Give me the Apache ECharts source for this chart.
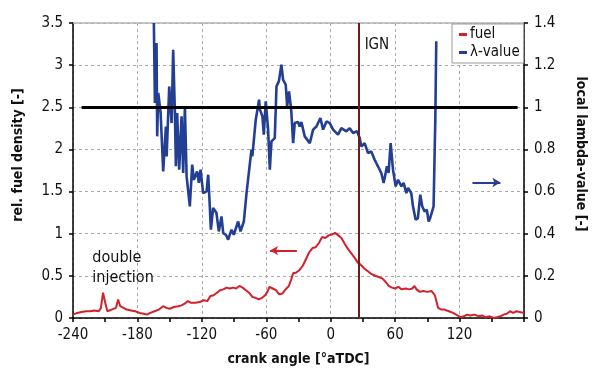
<!DOCTYPE html>
<html><head><meta charset="utf-8">
<script src="https://cdn.jsdelivr.net/npm/echarts@6/dist/echarts.min.js"></script>
<style>html,body{margin:0;padding:0;background:#fff}#c{width:600px;height:383px}</style>
</head><body><div id="c"></div>
<script>
const FONT = "'Liberation Sans Narrow','Arial Narrow','DejaVu Sans Condensed',sans-serif";
const xTickLabels = [-240,-180,-120,-60,0,60,120];
const fuelAngle = [-240,-236,-232,-228,-224,-220,-216,-214,-212,-210,-208,-204,-200,-198,-196,-193,-190,-186,-182,-178,-174,-171,-168,-164,-160,-156,-153,-150,-146,-142,-139,-136,-133,-130,-126,-122,-118,-115,-112,-109,-106,-103,-100,-97,-94,-91,-88,-85,-82,-79,-76,-73,-70,-67,-64,-61,-59,-57,-54,-51,-48,-45,-42,-39,-37,-35,-32,-29,-26,-23,-20,-17,-14,-11,-8,-5,-2,1,4,7,10,13,16,19,22,25,28,31,34,37,40,44,48,51,54,57,60,63,66,70,73,76,78,80,83,86,90,94,97,100,103,106,110,114,118,121,124,127,130,134,138,141,144,148,152,155,158,161,164,167,170,173,176,180];
const fuelValue = [0.04,0.06,0.07,0.08,0.08,0.09,0.08,0.12,0.30,0.18,0.08,0.10,0.12,0.22,0.14,0.12,0.10,0.09,0.08,0.06,0.05,0.04,0.06,0.08,0.10,0.14,0.12,0.11,0.13,0.14,0.15,0.17,0.20,0.18,0.18,0.19,0.21,0.20,0.26,0.27,0.30,0.33,0.34,0.36,0.35,0.36,0.35,0.38,0.36,0.33,0.30,0.25,0.24,0.22,0.24,0.27,0.31,0.37,0.35,0.33,0.28,0.29,0.34,0.38,0.45,0.53,0.54,0.57,0.62,0.70,0.78,0.83,0.84,0.89,0.96,0.95,0.98,0.99,1.01,0.98,0.95,0.88,0.82,0.77,0.72,0.66,0.63,0.59,0.56,0.53,0.51,0.49,0.47,0.43,0.38,0.36,0.35,0.37,0.34,0.35,0.34,0.35,0.38,0.34,0.31,0.32,0.31,0.32,0.27,0.12,0.10,0.10,0.08,0.06,0.03,0.01,0.02,0.04,0.03,0.04,0.02,0.03,0.01,0.02,0.00,0.01,0.02,0.04,0.05,0.08,0.06,0.08,0.07,0.06];
const lambdaAngle = [-164.7,-163.7,-162.2,-161.6,-160.6,-158.4,-156,-153.5,-152.8,-150.4,-148.2,-146.7,-145.1,-144.2,-143,-141.1,-138.9,-137.4,-135.8,-134.2,-131.2,-129,-127.4,-124.4,-122.8,-121.2,-118.8,-115.6,-114.1,-112.6,-111.6,-109.5,-106.4,-104.2,-101.7,-100.1,-97.6,-95.5,-92.4,-90.3,-86.2,-84,-80.9,-78.4,-73.8,-73,-69.8,-66.7,-66,-63.6,-62.3,-60.5,-58.3,-56.7,-55.2,-52.1,-50.5,-48.3,-45.9,-44.4,-41.9,-40.6,-38.8,-36.7,-35,-33.5,-30.4,-28.8,-27.3,-24.2,-19.5,-16.4,-13.3,-9.6,-7.1,-4,-0.9,2.2,6.8,9.9,14.6,17.7,20.8,24.5,27,28.5,31.6,34.7,37.8,40.9,44,47.1,49.3,52.4,53.9,55.8,58,60.5,62.7,65.8,67.9,70.4,72,75,76.6,79.1,81.2,83.4,85.2,87.4,89.5,91.2,92.6,94.4,95.8,97.4,98.3];
const lambdaValue = [1.40,1.02,1.305,0.862,1.068,0.973,0.696,0.909,0.767,1.099,0.925,1.273,0.973,0.72,0.973,0.704,0.957,0.688,1.004,0.672,0.53,0.728,0.656,0.696,0.641,0.704,0.593,0.601,0.68,0.53,0.419,0.522,0.498,0.411,0.482,0.403,0.395,0.372,0.419,0.395,0.458,0.411,0.458,0.593,0.799,0.767,0.941,1.036,0.99,0.957,0.87,1.028,0.894,0.704,0.838,0.854,1.099,1.123,1.202,1.131,1.107,1.004,1.075,0.981,0.83,0.925,0.93,0.909,0.93,0.862,0.83,0.894,0.909,0.949,0.894,0.933,0.925,0.894,0.87,0.901,0.886,0.901,0.878,0.886,0.854,0.814,0.83,0.783,0.79,0.751,0.72,0.688,0.641,0.72,0.688,0.83,0.704,0.625,0.656,0.625,0.641,0.593,0.617,0.593,0.53,0.466,0.474,0.585,0.53,0.506,0.514,0.458,0.474,0.474,0.53,0.941,1.313];
const lambdaOneLine = {fuel: 2.5, from: -232, to: 174};
const ignAngle = 26;
const fuelArrow = {y: 0.8, from: -31.5, to: -56.5};
const lambdaArrow = {y: 0.643, from: 132, to: 158};
const noteText = {x: -222, y1: 0.715, y2: 0.48};
const leftTitle = 'rel. fuel density [-]';
const rightTitle = 'local lambda-value [-]';

const RED = '#d3202b', BLUE = '#223f94', IGNC = '#6e1b1b';
const TICK = 15, TITLE = 14;
const chart = echarts.init(document.getElementById('c'));
const grid = {left: 73, right: 76, top: 23, bottom: 65};
chart.setOption({
  animation: false,
  textStyle: {fontFamily: FONT},
  grid: grid,
  legend: {
    data: ['fuel', 'λ-value'], orient: 'vertical', left: 452, top: 24,
    icon: 'rect', itemWidth: 8, itemHeight: 3, itemGap: 3, padding: [3, 4, 3, 7],
    backgroundColor: '#fff', borderColor: '#999', borderWidth: 1, borderRadius: 0,
    textStyle: {fontFamily: FONT, fontSize: 15, color: '#111', padding: [0, 0, 0, -2]}
  },
  xAxis: [{
    type: 'value', min: -240, max: 180, interval: 60,
    name: 'crank angle [°aTDC]', nameLocation: 'middle', nameGap: 34,
    nameTextStyle: {fontFamily: FONT, fontSize: TITLE, fontWeight: 'bold', color: '#111'},
    axisLine: {onZero: false, lineStyle: {color: '#000', width: 1.5}},
    axisTick: {show: true, length: 4, inside: false, lineStyle: {color: '#000', width: 1.5}},
    minorTick: {show: true, splitNumber: 2, length: 4, lineStyle: {color: '#000', width: 1.5}},
    axisLabel: {fontFamily: FONT, fontSize: TICK, color: '#111', margin: 10,
      formatter: v => xTickLabels.indexOf(v) >= 0 ? String(v) : ''},
    splitLine: {show: true, lineStyle: {color: '#aaa', type: [3, 3], width: 1}}
  }, {
    type: 'value', position: 'top', min: -240, max: 180,
    axisLine: {show: true, onZero: false, lineStyle: {color: '#b5b5b5', width: 1.5}},
    axisTick: {show: false}, axisLabel: {show: false}, splitLine: {show: false}
  }],
  yAxis: [{
    type: 'value', min: 0, max: 3.5, interval: 0.5, position: 'left',
    axisLine: {show: true, onZero: false, lineStyle: {color: '#000', width: 1.5}},
    axisTick: {show: true, length: 4, lineStyle: {color: '#000', width: 1.5}},
    axisLabel: {fontFamily: FONT, fontSize: TICK, color: '#111', margin: 10},
    splitLine: {show: true, lineStyle: {color: '#aaa', type: [3, 3], width: 1}}
  }, {
    type: 'value', min: 0, max: 1.4, interval: 0.2, position: 'right',
    axisLine: {show: true, onZero: false, lineStyle: {color: '#000', width: 1.5}},
    axisTick: {show: true, length: 4, lineStyle: {color: '#000', width: 1.5}},
    axisLabel: {fontFamily: FONT, fontSize: TICK, color: '#111', margin: 10,
      formatter: v => (v === 0 || v === 1) ? String(v) : v.toFixed(1)},
    splitLine: {show: false}
  }],
  series: [{
    name: 'fuel', type: 'line', xAxisIndex: 0, yAxisIndex: 0, showSymbol: false, symbol: 'none',
    data: fuelAngle.map((a, i) => [a, fuelValue[i]]),
    lineStyle: {color: RED, width: 2}, itemStyle: {color: RED}, z: 3,
    markLine: {
      silent: true, animation: false, symbol: ['none', 'none'], label: {show: false},
      data: [
        [{coord: [lambdaOneLine.from, lambdaOneLine.fuel], lineStyle: {color: '#000', width: 3, type: 'solid'}},
         {coord: [lambdaOneLine.to, lambdaOneLine.fuel]}],
        [{coord: [ignAngle, 0], lineStyle: {color: IGNC, width: 2, type: 'solid'}},
         {coord: [ignAngle, 3.5]}],
        [{coord: [fuelArrow.from, fuelArrow.y], symbol: 'none', lineStyle: {color: RED, width: 2, type: 'solid'}},
         {coord: [fuelArrow.to, fuelArrow.y], symbol: 'arrow', symbolSize: [7, 8]}]
      ]
    }
  }, {
    name: 'λ-value', type: 'line', xAxisIndex: 0, yAxisIndex: 1, showSymbol: false, symbol: 'none',
    data: lambdaAngle.map((a, i) => [a, lambdaValue[i]]),
    lineStyle: {color: BLUE, width: 2.6}, itemStyle: {color: BLUE}, z: 2,
    markLine: {
      silent: true, animation: false, label: {show: false},
      data: [
        [{coord: [lambdaArrow.from, lambdaArrow.y], symbol: 'none', lineStyle: {color: BLUE, width: 2, type: 'solid'}},
         {coord: [lambdaArrow.to, lambdaArrow.y], symbol: 'arrow', symbolSize: [7, 8]}]
      ]
    }
  }]
});
const pIgn = chart.convertToPixel({xAxisIndex: 0, yAxisIndex: 0}, [ignAngle, 3.5]);
const p1 = chart.convertToPixel({xAxisIndex: 0, yAxisIndex: 0}, [noteText.x, noteText.y1]);
const p2 = chart.convertToPixel({xAxisIndex: 0, yAxisIndex: 0}, [noteText.x, noteText.y2]);
chart.setOption({
  graphic: [
    {type: 'text', left: pIgn[0] + 6, top: pIgn[1] + 15, style: {text: 'IGN', font: '15px ' + FONT, fill: '#111'}},
    {type: 'text', x: p1[0], y: p1[1], style: {text: 'double', font: '16px ' + FONT, fill: '#111', textVerticalAlign: 'middle'}},
    {type: 'text', x: p2[0], y: p2[1], style: {text: 'injection', font: '16px ' + FONT, fill: '#111', textVerticalAlign: 'middle'}},
    {type: 'text', x: 18, y: 155, rotation: Math.PI / 2,
      style: {text: leftTitle, font: 'bold ' + TITLE + 'px ' + FONT, fill: '#111', textAlign: 'center', textVerticalAlign: 'middle'}},
    {type: 'text', x: 581, y: 154, rotation: -Math.PI / 2,
      style: {text: rightTitle, font: 'bold ' + TITLE + 'px ' + FONT, fill: '#111', textAlign: 'center', textVerticalAlign: 'middle'}}
  ]
});
</script></body></html>
